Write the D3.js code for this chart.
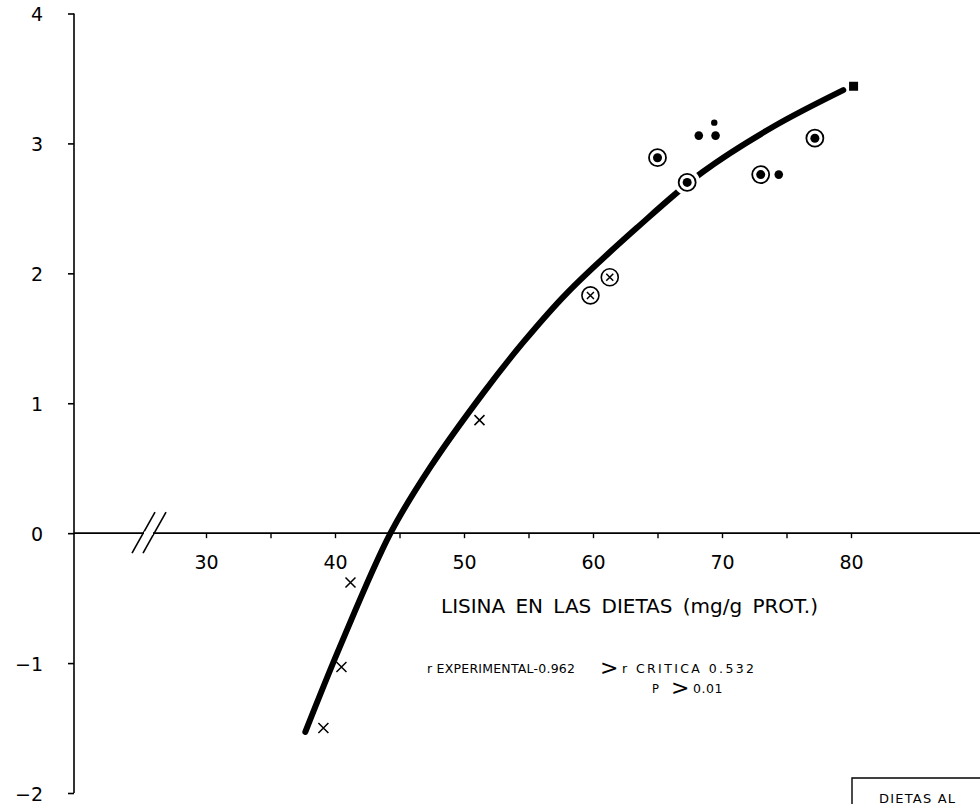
<!DOCTYPE html>
<html><head><meta charset="utf-8">
<script src="https://cdn.jsdelivr.net/npm/d3@7"></script>
<style>body{margin:0;background:#fff}svg{display:block}text{font-family:"DejaVu Sans",Verdana,sans-serif;fill:#000}</style>
</head><body><svg id="c" width="980" height="804"></svg>
<script>
// ---- data ----
const xTicks = [30,35,40,45,50,55,60,65,70,75,80];
const xTickLabels = ["30","","40","","50","","60","","70","","80"];
const yTicks = [-2,-1,0,1,2,3,4];
const yTickLabels = ["\u22122","\u22121","0","1","2","3","4"];

const curveX = [37.7,40.4,44.3,47.4,51.5,54.6,58.0,63.4,68.5,74.0,79.4];
const curveY = [-1.53,-0.87,0.0,0.51,1.08,1.47,1.85,2.35,2.78,3.13,3.41];

const crossX = [51.2,41.2,40.5,39.1];
const crossY = [0.87,-0.38,-1.03,-1.50];
const circCrossX = [59.8,61.3];
const circCrossY = [1.83,1.97];
const circDotX = [65.0,67.3,73.0,77.2];
const circDotY = [2.89,2.70,2.76,3.04];
const dotX = [68.2,69.5,74.4];
const dotY = [3.06,3.06,2.76];
const smallDotX = [69.4];
const smallDotY = [3.16];
const squareX = [80.2];
const squareY = [3.44];

const xTitle = "LISINA EN LAS DIETAS (mg/g PROT.)";
const stat1a = "r EXPERIMENTAL-0.962";
const stat1b = "r CRITICA 0.532";
const stat2a = "P";
const stat2b = "0.01";
const boxLabel = "DIETAS AL";

// ---- drawing ----
const svg = d3.select("#c");
const W = 980, axisX = 74;
const x = d3.scaleLinear().domain([30,80]).range([206,851]);
const y = d3.scaleLinear().domain([-2,4]).range([793,13.5]);
const FONT = "DejaVu Sans, Verdana, sans-serif";

// y axis
const yAxis = d3.axisLeft(y).tickValues(yTicks).tickSize(6).tickPadding(25)
  .tickFormat((d,i)=>yTickLabels[i]);
const gy = svg.append("g").attr("transform",`translate(${axisX},0)`).call(yAxis);
gy.select(".domain").remove();
gy.append("line").attr("x1",0).attr("x2",0).attr("y1",y(4)).attr("y2",y(-2)).attr("stroke","#000").attr("stroke-width",1.6);
gy.selectAll(".tick line").attr("stroke-width",1.6);
gy.selectAll(".tick text").attr("font-size",19).attr("dy","0.38em").style("font-family",FONT);

// x axis
const xAxis = d3.axisBottom(x).tickValues(xTicks).tickSize(5).tickPadding(17)
  .tickFormat((d,i)=>xTickLabels[i]);
const gx = svg.append("g").attr("transform",`translate(0,${y(0)})`).call(xAxis);
gx.select(".domain").remove();
gx.append("line").attr("x1",axisX).attr("x2",W).attr("y1",0).attr("y2",0).attr("stroke","#000").attr("stroke-width",1.6);
gx.selectAll(".tick line").attr("stroke-width",1.4);
gx.selectAll(".tick text").attr("font-size",19).style("font-family",FONT);

// axis break marks
const y0 = y(0);
svg.append("line").attr("x1",144).attr("x2",153).attr("y1",y0).attr("y2",y0).attr("stroke","#fff").attr("stroke-width",3);
[[132,155],[143,166]].forEach(([a,b])=>{
  gx.append("line").attr("x1",a).attr("y1",20).attr("x2",b).attr("y2",-21)
    .attr("stroke","#000").attr("stroke-width",1.6);
});

// curve
const pts = curveX.map((v,i)=>[x(v),y(curveY[i])]);
svg.append("path").attr("d",d3.line().curve(d3.curveCatmullRom.alpha(0.5))(pts))
  .attr("fill","none").attr("stroke","#000").attr("stroke-width",6).attr("stroke-linecap","round");

// markers
const g = svg.append("g");
circDotX.forEach((v,i)=>{
  g.append("circle").attr("cx",x(v)).attr("cy",y(circDotY[i])).attr("r",13).attr("fill","#fff");
});
crossX.forEach((v,i)=>{
  const cx=x(v), cy=y(crossY[i]), s=5;
  g.append("path").attr("d",`M${cx-s},${cy-s}L${cx+s},${cy+s}M${cx-s},${cy+s}L${cx+s},${cy-s}`)
    .attr("stroke","#000").attr("stroke-width",1.5);
});
circCrossX.forEach((v,i)=>{
  const cx=x(v), cy=y(circCrossY[i]), s=3.5;
  g.append("circle").attr("cx",cx).attr("cy",cy).attr("r",8.5).attr("fill","#fff").attr("stroke","#000").attr("stroke-width",1.6);
  g.append("path").attr("d",`M${cx-s},${cy-s}L${cx+s},${cy+s}M${cx-s},${cy+s}L${cx+s},${cy-s}`)
    .attr("stroke","#000").attr("stroke-width",1.5);
});
circDotX.forEach((v,i)=>{
  const cx=x(v), cy=y(circDotY[i]);
  g.append("circle").attr("cx",cx).attr("cy",cy).attr("r",8.5).attr("fill","none").attr("stroke","#000").attr("stroke-width",1.8);
  g.append("circle").attr("cx",cx).attr("cy",cy).attr("r",4.5).attr("fill","#000");
});
dotX.forEach((v,i)=>{
  g.append("circle").attr("cx",x(v)).attr("cy",y(dotY[i])).attr("r",4.3).attr("fill","#000");
});
smallDotX.forEach((v,i)=>{
  g.append("circle").attr("cx",x(v)).attr("cy",y(smallDotY[i])).attr("r",3.2).attr("fill","#000");
});
squareX.forEach((v,i)=>{
  g.append("rect").attr("x",x(v)-4.5).attr("y",y(squareY[i])-4.5).attr("width",9).attr("height",9).attr("fill","#000");
});

// texts
svg.append("text").attr("x",441).attr("y",613).attr("font-size",20).attr("word-spacing",4)
  .attr("textLength",377).attr("lengthAdjust","spacing").text(xTitle);
svg.append("text").attr("x",427).attr("y",673).attr("font-size",12.5)
  .attr("textLength",148).attr("lengthAdjust","spacing").text(stat1a);
svg.append("text").attr("x",600).attr("y",675).attr("font-size",22).text(">");
svg.append("text").attr("x",622).attr("y",673).attr("font-size",12.5)
  .attr("textLength",132).attr("lengthAdjust","spacing").text(stat1b);
svg.append("text").attr("x",652).attr("y",693).attr("font-size",11.5).text(stat2a);
svg.append("text").attr("x",671).attr("y",695).attr("font-size",22).text(">");
svg.append("text").attr("x",693).attr("y",693).attr("font-size",12.5).attr("letter-spacing",0.5).text(stat2b);

// box bottom right (clipped by the page edge)
svg.append("path").attr("d","M852,806L852,778L982,778").attr("fill","none").attr("stroke","#000").attr("stroke-width",1.4);
svg.append("text").attr("x",879).attr("y",803).attr("font-size",13).attr("letter-spacing",1.2).text(boxLabel);
</script></body></html>
